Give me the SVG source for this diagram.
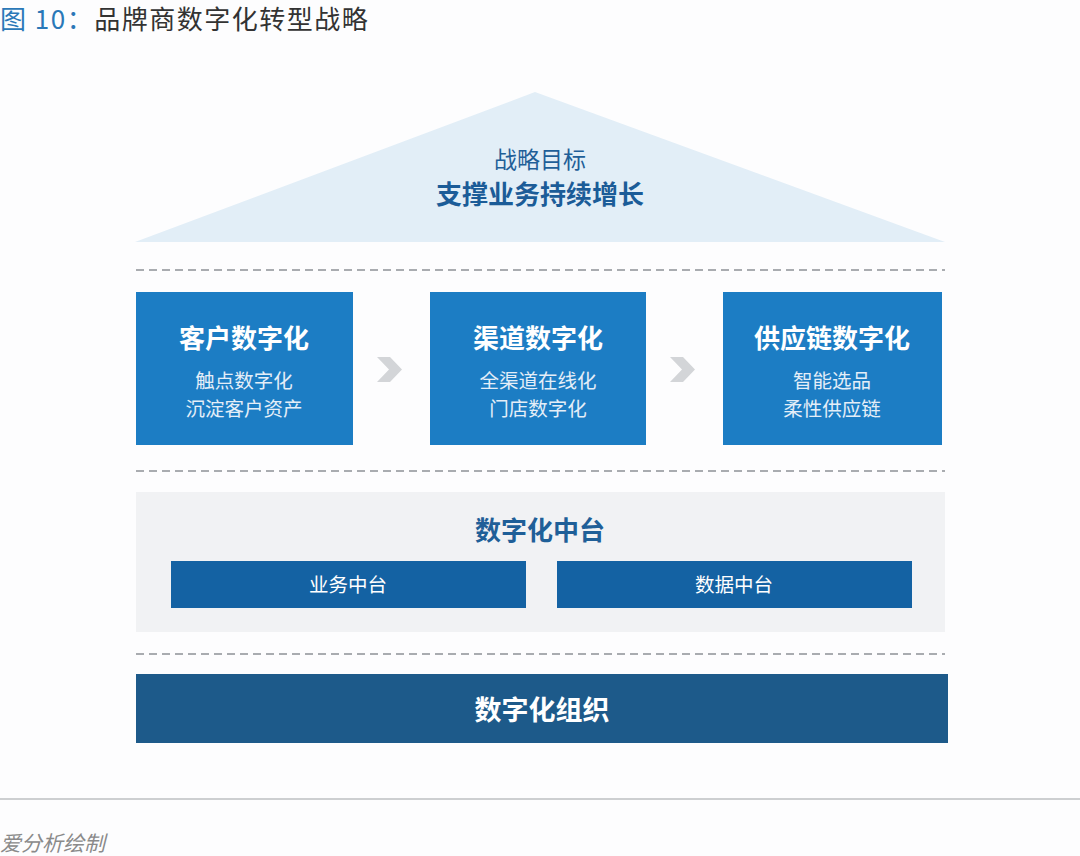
<svg xmlns="http://www.w3.org/2000/svg" width="1080" height="856" viewBox="0 0 1080 856">
<style>
text{font-family:"Noto Sans CJK SC","Noto Sans",sans-serif;text-anchor:middle}
.dash{stroke:#a9acb0;stroke-width:2;stroke-dasharray:8 5;fill:none}
.box{fill:#1c7dc4}
.bt{fill:#ffffff;font-size:26px;font-weight:bold}
.bs{fill:#e4eef8;font-size:19.5px}
.chev{fill:#d3d5d8}
.sub{fill:#1462a3}
</style>
<rect width="1080" height="856" fill="#fdfdfe"/>
<g id="title">
<text x="0" y="29" style="text-anchor:start;font-size:26px;letter-spacing:1.5px" fill="#2a78b8">图 10：<tspan fill="#333333">品牌商数字化转型战略</tspan></text>
</g>
<g id="goal">
<polygon points="535,92 135,242 945,242" fill="#e2eef7"/>
<text x="540" y="168" font-size="23" fill="#1f5f98">战略目标</text>
<text x="540" y="204" font-size="26" font-weight="bold" fill="#1b5c98">支撑业务持续增长</text>
</g>
<g id="separators">
<line class="dash" x1="136" y1="270" x2="945" y2="270"/>
<line class="dash" x1="136" y1="471" x2="945" y2="471"/>
<line class="dash" x1="136" y1="654" x2="945" y2="654"/>
</g>
<g id="customer">
<rect class="box" x="136" y="292" width="217" height="153"/>
<text class="bt" x="244" y="348">客户数字化</text>
<text class="bs" x="244" y="388">触点数字化</text>
<text class="bs" x="244" y="416">沉淀客户资产</text>
</g>
<g id="channel">
<rect class="box" x="430" y="292" width="216" height="153"/>
<text class="bt" x="538" y="348">渠道数字化</text>
<text class="bs" x="538" y="388">全渠道在线化</text>
<text class="bs" x="538" y="416">门店数字化</text>
</g>
<g id="supply">
<rect class="box" x="723" y="292" width="219" height="153"/>
<text class="bt" x="832" y="348">供应链数字化</text>
<text class="bs" x="832" y="388">智能选品</text>
<text class="bs" x="832" y="416">柔性供应链</text>
</g>
<g id="connectors">
<polygon class="chev" points="377,357 390,357 402,369.5 390,382 377,382 389,369.5"/>
<polygon class="chev" points="670,357 683,357 695,369.5 683,382 670,382 682,369.5"/>
</g>
<g id="platform">
<rect x="136" y="492" width="809" height="140" fill="#f1f2f4"/>
<text x="540" y="540" font-size="26" font-weight="bold" fill="#1f5f98">数字化中台</text>
</g>
<g id="biz">
<rect class="sub" x="171" y="561" width="355" height="47"/>
<text x="348" y="592" font-size="19.5" fill="#ffffff">业务中台</text>
</g>
<g id="data">
<rect class="sub" x="557" y="561" width="355" height="47"/>
<text x="734" y="592" font-size="19.5" fill="#ffffff">数据中台</text>
</g>
<g id="org">
<rect x="136" y="674" width="812" height="69" fill="#1d5a8a"/>
<text x="542" y="720" font-size="27" font-weight="bold" fill="#ffffff">数字化组织</text>
</g>
<g id="footer">
<line x1="0" y1="799" x2="1080" y2="799" stroke="#bdbfc2" stroke-width="1.5"/>
<text x="0" y="851" style="text-anchor:start;font-size:21px;font-style:italic" fill="#8a8a8a">爱分析绘制</text>
</g>
</svg>
